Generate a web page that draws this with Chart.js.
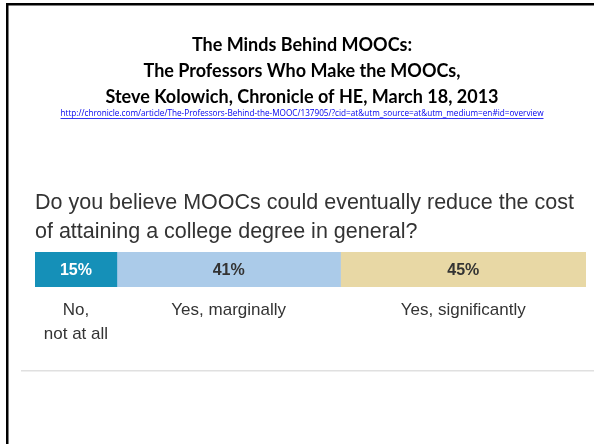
<!DOCTYPE html>
<html>
<head>
<meta charset="utf-8">
<script src="https://cdn.jsdelivr.net/npm/chart.js@4/dist/chart.umd.min.js"></script>
<style>
  html, body { margin: 0; padding: 0; background: #fff; }
  #chart { display: block; }
</style>
</head>
<body>
<canvas id="chart" width="594" height="444"></canvas>
<script>
// datos
const categories = ['No,\nnot at all', 'Yes, marginally', 'Yes, significantly'];
const values = [15, 41, 45];
const barColors = ['#1590b8', '#abcbe9', '#e8d8a5'];
const pctColors = ['#ffffff', '#333333', '#333333'];

const titleLines = [
  'The Minds Behind MOOCs:',
  'The Professors Who Make the MOOCs,',
  'Steve Kolowich, Chronicle of HE, March 18, 2013'
];
const sourceUrl = 'http://chronicle.com/article/The-Professors-Behind-the-MOOC/137905/?cid=at&utm_source=at&utm_medium=en#id=overview';
const questionLines = [
  'Do you believe MOOCs could eventually reduce the cost',
  'of attaining a college degree in general?'
];

// ---------------------------------------------------------------
// plugin: texto de la diapositiva, borde y etiquetas
// ---------------------------------------------------------------
const slideDecor = {
  id: 'slideDecor',
  afterDraw(chart) {
    const ctx = chart.ctx;
    ctx.save();

    // borde negro (arriba e izquierda)
    ctx.fillStyle = '#000';
    ctx.fillRect(6, 3, 588, 2.5);
    ctx.fillRect(6, 3, 2.5, 441);

    // título
    ctx.textAlign = 'center';
    ctx.textBaseline = 'middle';
    ctx.fillStyle = '#000';
    ctx.font = 'bold 18px Lato, "Open Sans", sans-serif';
    const titleY = [45, 71, 97];
    titleLines.forEach((t, i) => ctx.fillText(t, 302, titleY[i]));

    // enlace
    ctx.font = '8.2px "Open Sans", sans-serif';
    ctx.fillStyle = '#0000ee';
    ctx.fillText(sourceUrl, 302, 114);
    const w = ctx.measureText(sourceUrl).width;
    ctx.fillRect(302 - w / 2, 118, w, 0.8);

    // pregunta
    ctx.textAlign = 'left';
    ctx.fillStyle = '#333';
    ctx.font = '21.5px "Liberation Sans", Arial, sans-serif';
    ctx.fillText(questionLines[0], 35, 203);
    ctx.fillText(questionLines[1], 35, 232);

    // porcentajes y categorías
    chart.data.datasets.forEach((ds, i) => {
      const bar = chart.getDatasetMeta(i).data[0];
      const cx = (bar.x + bar.base) / 2;
      ctx.textAlign = 'center';
      ctx.font = 'bold 16px "Liberation Sans", Arial, sans-serif';
      ctx.fillStyle = pctColors[i];
      ctx.fillText(ds.data[0] + '%', cx, bar.y + 1);

      ctx.font = '17px "Liberation Sans", Arial, sans-serif';
      ctx.fillStyle = '#333';
      ds.label.split('\n').forEach((line, j) => {
        ctx.fillText(line, cx, 310 + j * 24);
      });
    });

    // línea gris
    ctx.fillStyle = '#e0e0e0';
    ctx.fillRect(21, 370, 573, 1.5);

    ctx.restore();
  }
};

const chart = new Chart(document.getElementById('chart'), {
  type: 'bar',
  data: {
    labels: [''],
    datasets: categories.map((c, i) => ({
      label: c,
      data: [values[i]],
      backgroundColor: barColors[i],
      borderWidth: 0,
      barPercentage: 1,
      categoryPercentage: 1
    }))
  },
  options: {
    indexAxis: 'y',
    responsive: false,
    animation: false,
    devicePixelRatio: 1,
    layout: { padding: { left: 35, right: 8, top: 252, bottom: 157 } },
    scales: {
      x: { stacked: true, display: false, min: 0, max: 101 },
      y: { stacked: true, display: false }
    },
    plugins: {
      legend: { display: false },
      tooltip: { enabled: false }
    }
  },
  plugins: [slideDecor]
});
</script>
</body>
</html>
